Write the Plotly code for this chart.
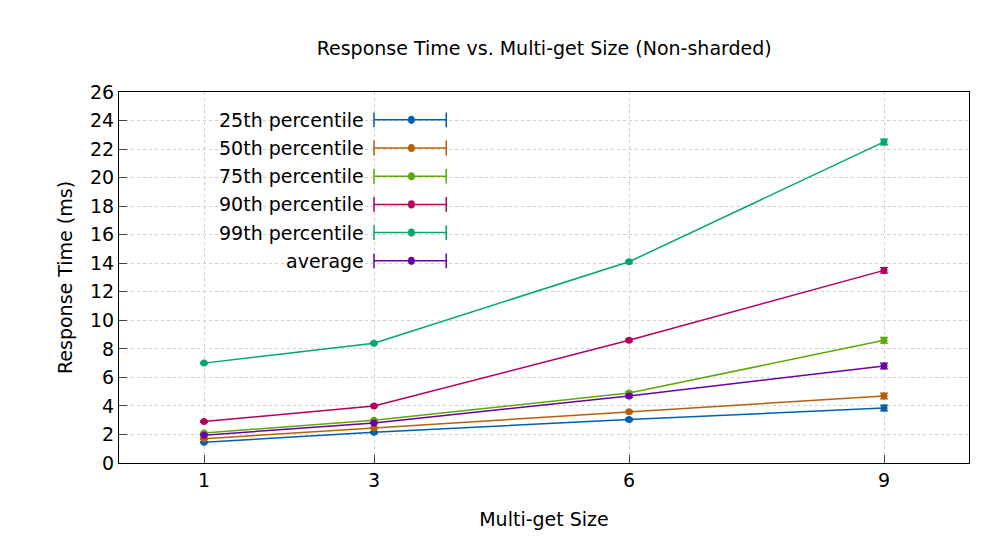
import plotly.graph_objects as go

sizes = [1, 3, 6, 9]
series_names = ["25th percentile", "50th percentile", "75th percentile",
                "90th percentile", "99th percentile", "average"]
p25 = [1.45, 2.15, 3.05, 3.85]
p50 = [1.7, 2.45, 3.6, 4.7]
p75 = [2.1, 3.0, 4.9, 8.6]
p90 = [2.9, 4.0, 8.6, 13.5]
p99 = [7.0, 8.4, 14.1, 22.5]
avg = [1.95, 2.8, 4.7, 6.8]
errs = [0.05, 0.05, 0.08, 0.2]
colors = ["#0060ad", "#b5600a", "#5fa80a", "#b5005f", "#00a86b", "#6a00aa"]

fig = go.Figure()
for name, vals, c in zip(series_names, [p25, p50, p75, p90, p99, avg], colors):
    fig.add_trace(go.Scatter(
        x=sizes, y=vals, name=name, mode="lines+markers",
        line=dict(color=c, width=1.5), marker=dict(color=c, size=7),
        error_y=dict(type="data", array=errs, color=c, thickness=1.2, width=4),
        showlegend=False))

# gnuplot-style legend: text right-aligned, sample to its right
for i, (name, c) in enumerate(zip(series_names, colors)):
    y = 0.925 - i * 0.076
    fig.add_annotation(x=0.29, y=y, xref="paper", yref="paper", text=name,
                       showarrow=False, xanchor="right", yanchor="middle",
                       font=dict(size=19, color="black"))
    fig.add_shape(type="line", x0=0.3, x1=0.385, y0=y, y1=y, xref="paper", yref="paper",
                  line=dict(color=c, width=1.5))
    fig.add_shape(type="line", x0=0.385, x1=0.385, y0=y - 0.02, y1=y + 0.02,
                  xref="paper", yref="paper", line=dict(color=c, width=1.5))
    fig.add_shape(type="line", x0=0.3, x1=0.3, y0=y - 0.02, y1=y + 0.02,
                  xref="paper", yref="paper", line=dict(color=c, width=1.5))
    fig.add_shape(type="circle", x0=0.34, x1=0.348, y0=y - 0.011, y1=y + 0.011,
                  xref="paper", yref="paper", fillcolor=c, line=dict(color=c, width=0))

fig.update_layout(
    width=1006, height=544,
    margin=dict(l=111, r=45, t=84, b=89, autoexpand=False),
    plot_bgcolor="white", paper_bgcolor="white",
    font=dict(family="DejaVu Sans", size=19, color="black"),
    title=dict(text="Response Time vs. Multi-get Size (Non-sharded)", x=0.533, y=0.925,
               xanchor="center", yanchor="middle", font=dict(size=19)),
    xaxis=dict(title=dict(text="Multi-get Size", standoff=22, font=dict(size=19)),
               range=[0, 10], automargin=False,
               tickvals=sizes, showline=True, mirror=True, linecolor="black",
               ticks="inside", ticklen=8, showgrid=True, gridcolor="#d0d0d0",
               griddash="dot", zeroline=False),
    yaxis=dict(title=dict(text="Response Time (ms)", standoff=12, font=dict(size=19)),
               range=[0, 26], automargin=False,
               dtick=2, showline=True, mirror=True, linecolor="black",
               ticks="inside", ticklen=8, showgrid=True, gridcolor="#d0d0d0",
               griddash="dot", zeroline=False),
)
fig.write_html("out.html")
